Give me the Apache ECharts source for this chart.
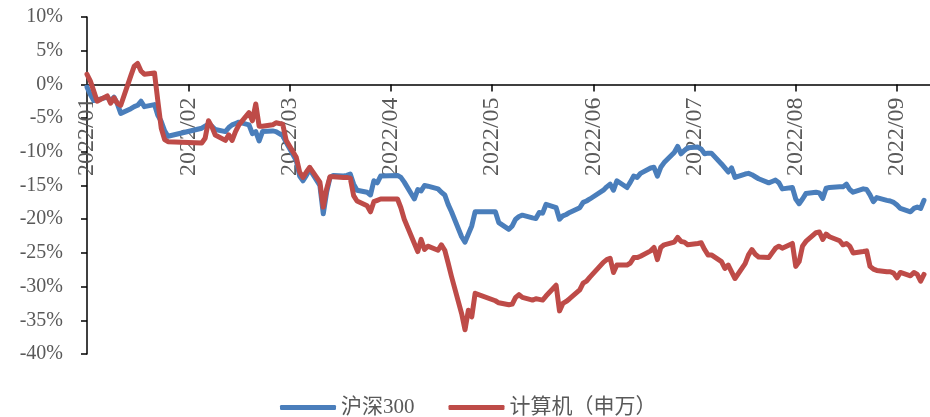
<!DOCTYPE html>
<html>
<head>
<meta charset="utf-8">
<script src="https://cdn.jsdelivr.net/npm/echarts@6/dist/echarts.min.js"></script>
<style>html,body{margin:0;padding:0;background:#fff;}#c{width:930px;height:417px;}</style>
</head>
<body>
<div id="c"></div>
<script>
// Trading dates (2022)
const dates = [
'2022-01-04','2022-01-05','2022-01-06','2022-01-07','2022-01-10','2022-01-11','2022-01-12','2022-01-13','2022-01-14',
'2022-01-17','2022-01-18','2022-01-19','2022-01-20','2022-01-21','2022-01-24','2022-01-25','2022-01-26','2022-01-27','2022-01-28',
'2022-02-07','2022-02-08','2022-02-09','2022-02-10','2022-02-11','2022-02-14','2022-02-15','2022-02-16','2022-02-17','2022-02-18',
'2022-02-21','2022-02-22','2022-02-23','2022-02-24','2022-02-25','2022-02-28',
'2022-03-01','2022-03-02','2022-03-03','2022-03-04','2022-03-07','2022-03-08','2022-03-09','2022-03-10','2022-03-11',
'2022-03-14','2022-03-15','2022-03-16','2022-03-17','2022-03-18','2022-03-21','2022-03-22','2022-03-23','2022-03-24','2022-03-25',
'2022-03-28','2022-03-29','2022-03-30','2022-03-31',
'2022-04-01','2022-04-06','2022-04-07','2022-04-08','2022-04-11','2022-04-12','2022-04-13','2022-04-14','2022-04-15',
'2022-04-18','2022-04-19','2022-04-20','2022-04-21','2022-04-22','2022-04-25','2022-04-26','2022-04-27','2022-04-28','2022-04-29',
'2022-05-05','2022-05-06','2022-05-09','2022-05-10','2022-05-11','2022-05-12','2022-05-13','2022-05-16','2022-05-17','2022-05-18',
'2022-05-19','2022-05-20','2022-05-23','2022-05-24','2022-05-25','2022-05-26','2022-05-27','2022-05-30','2022-05-31',
'2022-06-01','2022-06-02','2022-06-06','2022-06-07','2022-06-08','2022-06-09','2022-06-10','2022-06-13','2022-06-14','2022-06-15',
'2022-06-16','2022-06-17','2022-06-20','2022-06-21','2022-06-22','2022-06-23','2022-06-24','2022-06-27','2022-06-28','2022-06-29','2022-06-30',
'2022-07-01','2022-07-04','2022-07-05','2022-07-06','2022-07-07','2022-07-08','2022-07-11','2022-07-12','2022-07-13','2022-07-14',
'2022-07-15','2022-07-18','2022-07-19','2022-07-20','2022-07-21','2022-07-22','2022-07-25','2022-07-26','2022-07-27','2022-07-28','2022-07-29',
'2022-08-01','2022-08-02','2022-08-03','2022-08-04','2022-08-05','2022-08-08','2022-08-09','2022-08-10','2022-08-11','2022-08-12',
'2022-08-15','2022-08-16','2022-08-17','2022-08-18','2022-08-19','2022-08-22','2022-08-23','2022-08-24','2022-08-25','2022-08-26',
'2022-08-29','2022-08-30','2022-08-31',
'2022-09-01','2022-09-02','2022-09-05','2022-09-06','2022-09-07','2022-09-08','2022-09-09'
];

// 沪深300 cumulative return (%)
const hs300 = [
-0.4,-1.5,-2.4,-2.3,-1.9,-2.4,-1.9,-2.9,-4.3,
-3.6,-3.3,-3.1,-2.5,-3.3,-3.0,-4.6,-5.5,-6.9,-7.7,
-6.5,-6.2,-5.9,-6.2,-6.7,-7.0,-6.4,-6.0,-5.8,-5.6,
-6.0,-7.3,-7.0,-8.4,-7.0,-6.9,
-7.0,-7.3,-7.6,-8.6,-11.3,-13.6,-14.3,-13.5,-12.6,
-15.0,-19.2,-16.0,-13.8,-13.5,-13.6,-13.5,-13.3,-14.8,-15.7,
-16.0,-16.4,-14.3,-14.6,
-13.6,-13.5,-13.8,-14.5,-17.0,-15.6,-15.8,-15.0,-15.1,
-15.5,-16.0,-16.4,-17.8,-18.9,-22.6,-23.4,-22.2,-21.0,-18.9,
-18.9,-20.5,-21.5,-21.0,-20.0,-19.6,-19.4,-19.8,-19.9,-19.0,
-19.1,-17.8,-18.3,-20.0,-19.5,-19.3,-19.0,-18.3,-17.5,
-17.3,-17.0,-15.7,-15.2,-14.8,-15.7,-14.3,-15.3,-14.5,-13.6,
-13.8,-13.2,-12.4,-12.3,-13.6,-12.3,-11.6,-10.1,-9.2,-10.3,-9.8,
-9.4,-9.3,-9.6,-10.3,-10.2,-10.2,-11.8,-12.4,-13.0,-12.4,
-13.8,-13.3,-13.2,-13.4,-13.7,-14.0,-14.6,-14.4,-14.2,-14.6,-15.5,
-15.3,-17.0,-17.7,-17.0,-16.2,-16.0,-16.1,-16.9,-15.4,-15.3,
-15.2,-15.2,-14.8,-15.6,-16.0,-15.5,-15.6,-16.4,-17.4,-16.8,
-17.2,-17.3,-17.5,
-17.9,-18.4,-18.9,-18.4,-18.2,-18.4,-17.2
];

// 计算机（申万） cumulative return (%)
const computer = [
1.5,0.5,-1.0,-2.5,-1.7,-2.8,-2.0,-2.8,-3.1,
1.3,2.7,3.1,2.0,1.5,1.7,-2.5,-6.5,-8.2,-8.5,
-8.7,-8.0,-5.4,-6.3,-7.5,-8.3,-7.5,-8.3,-7.0,-6.0,
-4.2,-5.4,-2.9,-6.2,-6.2,-6.0,
-5.7,-5.8,-5.9,-8.3,-10.8,-13.0,-13.8,-13.0,-12.3,
-14.5,-18.2,-15.5,-13.7,-13.7,-13.8,-13.8,-13.9,-16.5,-17.3,
-18.0,-18.9,-17.4,-17.2,
-17.0,-17.0,-18.3,-20.0,-23.6,-24.8,-23.0,-24.5,-24.0,
-24.6,-23.8,-24.6,-26.5,-28.5,-34.0,-36.4,-33.5,-34.5,-31.0,
-32.1,-32.4,-32.7,-32.6,-31.6,-31.2,-31.6,-32.0,-31.8,-31.9,
-32.0,-31.4,-29.8,-33.6,-32.5,-32.2,-31.8,-30.5,-29.5,
-29.2,-28.6,-26.4,-26.0,-25.8,-27.9,-26.8,-26.8,-26.5,-25.7,
-25.7,-25.5,-24.7,-24.2,-26.0,-24.2,-23.8,-23.4,-22.7,-23.3,-23.4,
-23.8,-23.6,-23.5,-24.5,-25.3,-25.3,-26.3,-27.3,-26.8,-27.8,
-28.8,-26.6,-25.3,-24.5,-25.2,-25.6,-25.7,-25.0,-24.3,-24.0,-24.3,
-23.6,-27.0,-26.3,-24.0,-23.3,-22.0,-21.9,-23.0,-22.2,-22.6,
-23.2,-23.8,-23.6,-24.0,-25.0,-24.8,-24.7,-27.0,-27.4,-27.6,
-27.8,-27.8,-28.0,
-28.7,-27.9,-28.4,-27.9,-28.2,-29.2,-28.2
];

const yTicks = { min: -40, max: 10, step: 5 };
const seriesNames = ['沪深300', '计算机（申万）'];

const DAY = 86400000;
const t0 = Date.parse('2022-01-04T00:00:00Z');
const dayOf = d => Math.round((Date.parse(d + 'T00:00:00Z') - t0) / DAY);
const pairs = arr => dates.map((d, i) => [dayOf(d), arr[i]]);
const pad = n => (n < 10 ? '0' : '') + n;
const lastDay = dayOf(dates[dates.length - 1]);

const W = 930, H = 417, gl = 87, gt = 17, gb = 63, grRight = 6;
const pxPerDay = (W - grRight - gl) / lastDay;
const axisMax = Math.ceil(lastDay / 30) * 30;
const plotH = H - gt - gb;
const zeroOffset = -plotH * (0 - yTicks.min) / (yTicks.max - yTicks.min);

const font = "'Liberation Serif', 'Times New Roman', 'Noto Sans CJK SC', serif";
const chart = echarts.init(document.getElementById('c'));
chart.setOption({
  animation: false,
  backgroundColor: '#fff',
  grid: { left: gl, top: gt, bottom: gb, right: grRight - (axisMax - lastDay) * pxPerDay, outerBoundsMode: 'none', containLabel: false },
  legend: {
    left: 275, top: 392,
    itemWidth: 56, itemHeight: 5, itemGap: 34,
    icon: 'roundRect',
    textStyle: { fontFamily: font, fontSize: 21, color: '#595959' },
    data: seriesNames
  },
  xAxis: {
    type: 'value', min: 0, max: axisMax, interval: 30,
    position: 'bottom', offset: zeroOffset,
    axisLine: { onZero: false, lineStyle: { color: '#000', width: 1.5 } },
    axisTick: { show: true, inside: false, length: 7, lineStyle: { color: '#000', width: 1.5 } },
    splitLine: { show: false },
    axisLabel: {
      rotate: 90, margin: 13, fontFamily: font, fontSize: 24, color: '#595959',
      formatter: v => { const dt = new Date(t0 + v * DAY); return dt.getUTCFullYear() + '/' + pad(dt.getUTCMonth() + 1); }
    }
  },
  yAxis: {
    type: 'value', min: yTicks.min, max: yTicks.max, interval: yTicks.step,
    axisLine: { show: true, onZero: false, lineStyle: { color: '#000', width: 1.5 } },
    axisTick: { show: true, inside: false, length: 6, lineStyle: { color: '#000', width: 1.5 } },
    splitLine: { show: false },
    axisLabel: { margin: 24, fontFamily: font, fontSize: 20, color: '#595959', formatter: v => v + '%' }
  },
  series: [
    { name: seriesNames[0], type: 'line', data: pairs(hs300), showSymbol: false, symbol: 'none',
      lineStyle: { color: '#4A7EBB', width: 5, join: 'round', cap: 'round' }, itemStyle: { color: '#4A7EBB' }, z: 3 },
    { name: seriesNames[1], type: 'line', data: pairs(computer), showSymbol: false, symbol: 'none',
      lineStyle: { color: '#BE4B48', width: 5, join: 'round', cap: 'round' }, itemStyle: { color: '#BE4B48' }, z: 4 }
  ]
});
</script>
</body>
</html>
